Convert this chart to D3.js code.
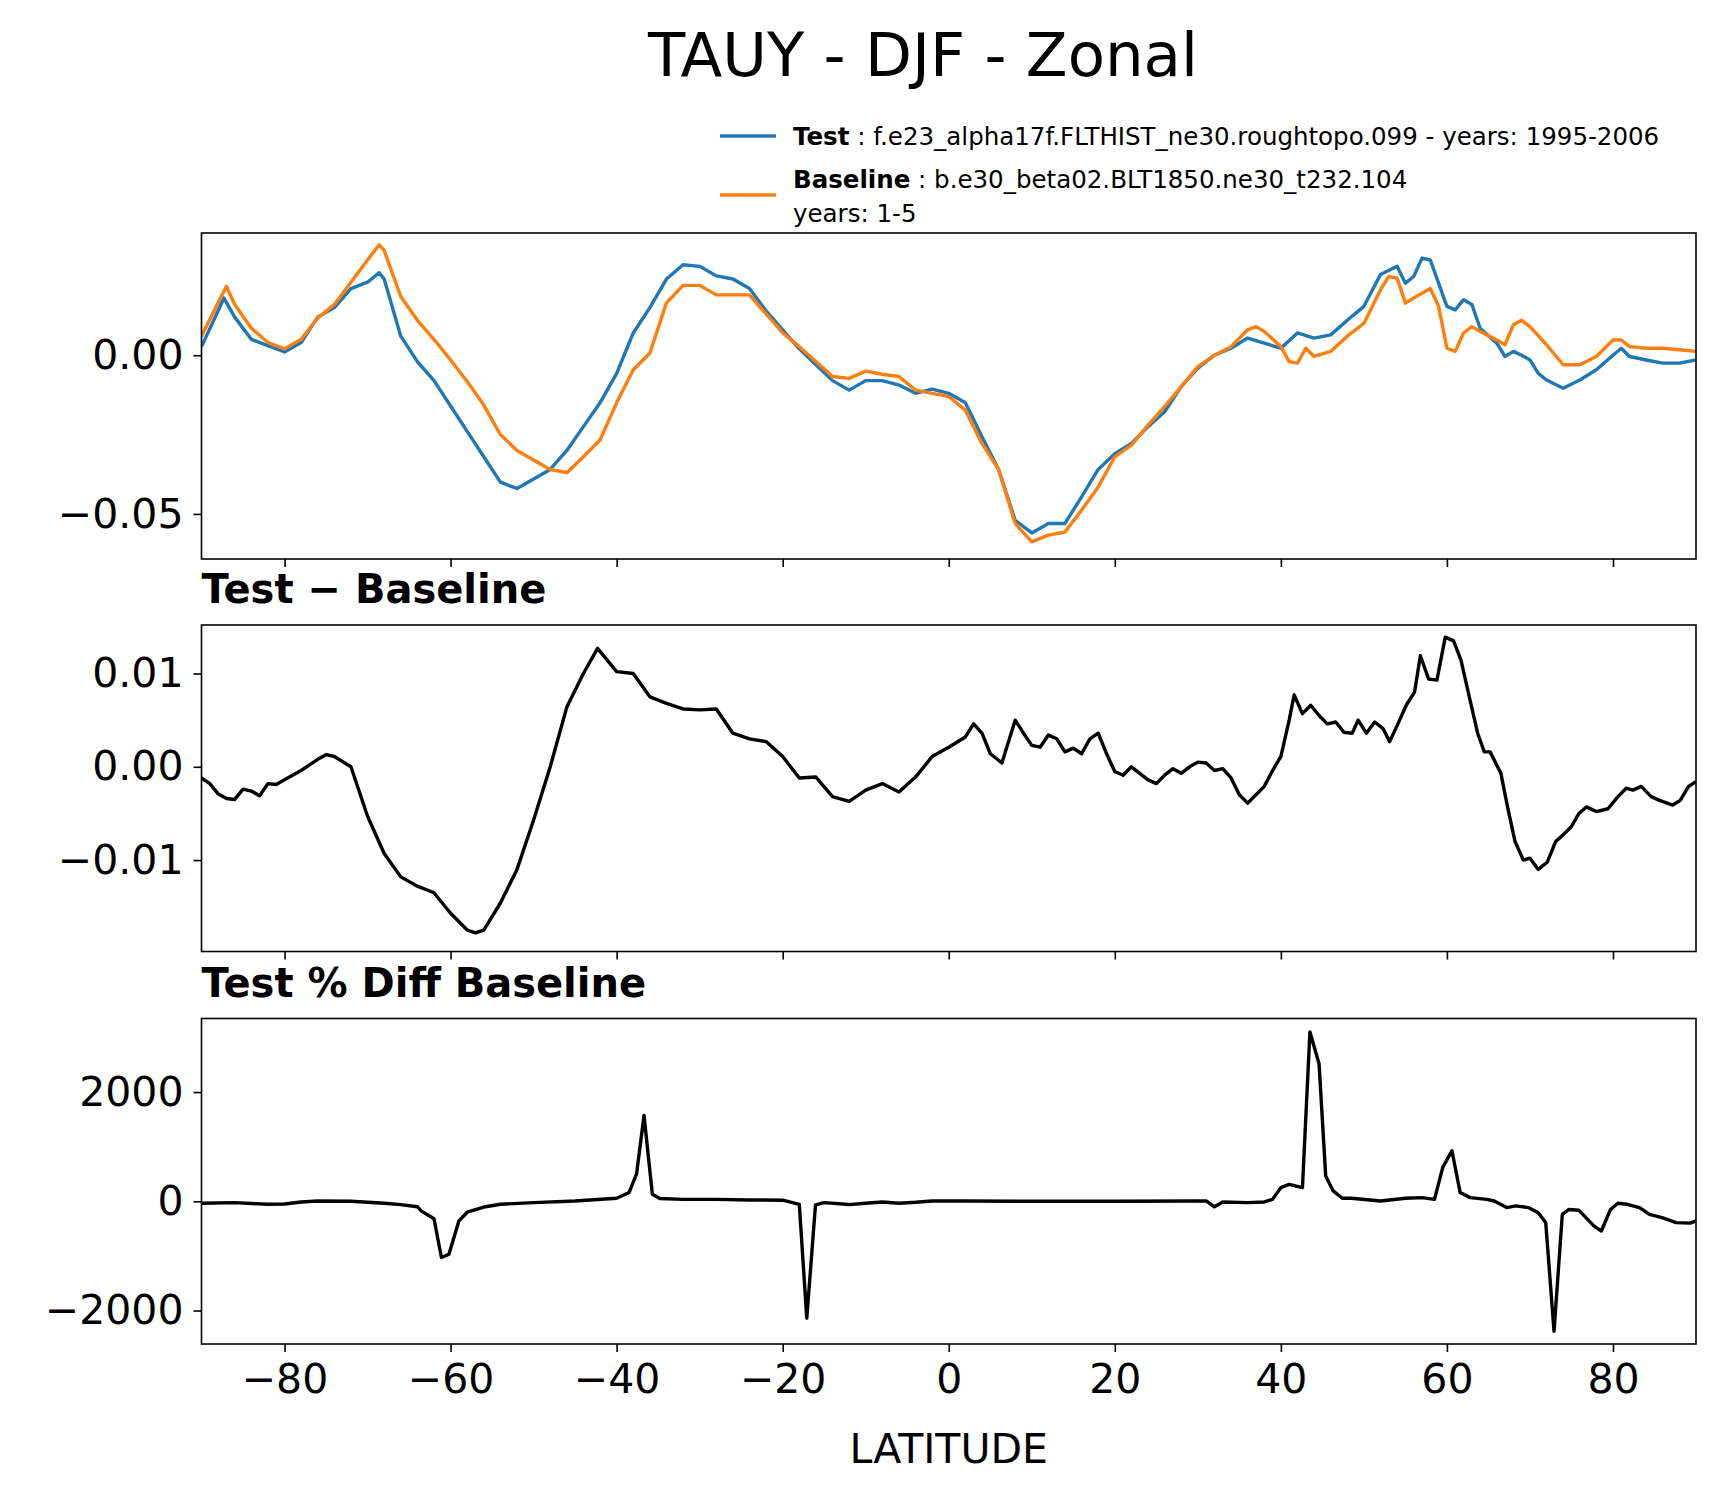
<!DOCTYPE html>
<html>
<head>
<meta charset="utf-8">
<script src="https://cdn.jsdelivr.net/npm/d3@7"></script>
<style>
  body { margin: 0; background: #fff; }
  text { font-family: "DejaVu Sans", sans-serif; }
</style>
</head>
<body>
<div id="chart"></div>
<script>
// panel 1: zonal means
const testLat = [-90,-88,-87.3,-86,-84,-82,-80,-78,-76,-74,-72,-70,-68.6,-68,-66,-64,-62,-60,-58,-56,-54,-52,-50,-48,-46,-44,-42,-40,-38,-36,-34,-32,-30,-28,-26,-24,-22,-20,-18,-16,-14,-12,-10,-8,-6,-4,-2,0,
  2,4,6,8,10,12,14,16,18,20,22,24,26,28,30,32,34,36,38,40,42,44,46,48,50,52,54,55,56,57,58,60,61,62,63,64,66,67,68,69,70,71,72,74,76,78,80,81,82,84,86,88,90]
const testVals = [0.0027,0.014,0.018,0.012,0.005,0.003,0.001,0.004,0.012,0.015,0.021,0.023,0.026,0.024,0.006,-0.002,-0.008,-0.016,-0.024,-0.032,-0.040,-0.042,-0.039,-0.036,-0.030,-0.0225,-0.015,-0.0057,0.007,0.015,0.024,0.0285,0.028,0.025,0.024,0.021,0.014,0.008,0.002,-0.003,-0.008,-0.011,-0.008,-0.008,-0.0094,-0.012,-0.0107,-0.012,
  -0.015,-0.0257,-0.036,-0.052,-0.056,-0.053,-0.053,-0.0446,-0.036,-0.031,-0.0278,-0.0225,-0.0178,-0.0099,-0.0041,0.0,0.0022,0.0054,0.0038,0.0022,0.007,0.0054,0.0064,0.011,0.0154,0.0254,0.028,0.0227,0.0248,0.0306,0.030,0.0154,0.0143,0.0175,0.016,0.0085,0.0038,-0.0004,0.0012,0.0,-0.0015,-0.0057,-0.0078,-0.0104,-0.0078,-0.0046,0.0,0.0022,-0.0004,-0.0015,-0.0025,-0.0025,-0.0015]

const baseLat = [-90,-88,-87,-86,-84,-82,-80,-78,-76,-74,-72,-70,-68.6,-68,-66,-64,-62,-60,-58,-56,-54,-52,-50,-48,-46,-44,-42,-40,-38,-36,-34,-32,-30,-28,-26,-24,-22,-20,-18,-16,-14,-12,-10,-8,-6,-4,-2,0,
  2,4,6,8,10,12,14,16,18,20,22,24,26,28,30,32,34,36,37,38,40,41,42,43,44,46,48,50,52,53,54,55,56,58,59,60,61,62,63,64,66,67,68,69,70,72,74,76,78,80,81,82,84,86,88,90]
const baseVals = [0.006,0.0165,0.0217,0.016,0.0085,0.004,0.002,0.005,0.0117,0.016,0.023,0.030,0.0348,0.033,0.0185,0.011,0.005,-0.0015,-0.0083,-0.0157,-0.025,-0.030,-0.033,-0.036,-0.037,-0.032,-0.0267,-0.015,-0.0046,0.0006,0.0165,0.022,0.022,0.019,0.019,0.019,0.013,0.007,0.0027,-0.002,-0.0067,-0.0073,-0.005,-0.006,-0.0067,-0.011,-0.012,-0.013,
  -0.0173,-0.0278,-0.036,-0.053,-0.0588,-0.0567,-0.0557,-0.0488,-0.0415,-0.032,-0.0283,-0.022,-0.0162,-0.0099,-0.0036,0.0,0.0027,0.008,0.009,0.0075,0.0027,-0.002,-0.0025,0.0022,-0.0004,0.0012,0.006,0.010,0.0206,0.0248,0.0243,0.0164,0.018,0.021,0.0154,0.0022,0.0012,0.007,0.009,0.0075,0.0048,0.0033,0.0096,0.011,0.009,0.0033,-0.003,-0.003,-0.0004,0.0048,0.0048,0.0027,0.0022,0.0022,0.0017,0.0012]

// panel 2: test - baseline
const diffLat = [-90,-89,-88,-87,-86,-85,-84,-83,-82,-81,-80,-78,-76,-75,-74,-72,-70,-68,-66,-64,-62,-60,-58,-57,-56,-54,-52,-50,-48,-46,-44,-42.3,-40,-38,-36,-34,-32,-30,-28,-26,-24,-22,-20,-18,-16,-14,-12,-10,-8,-6,-4,-2,0,
  2,3,4,5,6,6.4,8,9,10,11,12,13,14,15,16,17,18,19,20,21,22,24,25,26,27,28,29,30,31,32,33,34,35,36,37,38,39,40,41,41.6,42.6,43.6,44.6,45.6,46.6,47.6,48.6,49.3,50.3,51.3,52.3,53.1,54.1,55.1,56.1,56.8,57.8,58.8,59.8,60.8,61.7,62.8,63.7,64.5,65.2,66.5,67.3,68.2,69.2,70,71,72.1,73.1,74,75,75.9,76.8,78,79.4,80.6,81.6,82.4,83.4,84.6,85.6,87.2,88.1,89.1,90]
const diffVals = [-0.0012,-0.0018,-0.0029,-0.0034,-0.0035,-0.0024,-0.0026,-0.0031,-0.0018,-0.0019,-0.0014,-0.0004,0.0008,0.0013,0.0011,0.0,-0.0053,-0.0093,-0.0118,-0.0128,-0.0135,-0.0157,-0.0175,-0.0178,-0.0175,-0.0146,-0.011,-0.0057,0.0,0.0064,0.010,0.0127,0.0102,0.010,0.0075,0.0068,0.0062,0.0061,0.0062,0.0036,0.003,0.0027,0.0011,-0.0012,-0.0011,-0.0032,-0.0037,-0.0025,-0.0018,-0.0027,-0.0011,0.0011,0.0021,
  0.0032,0.0046,0.0036,0.0014,0.0007,0.0004,0.005,0.0036,0.0023,0.0021,0.0034,0.003,0.0016,0.002,0.0014,0.003,0.0036,0.0014,-0.0005,-0.0009,0.0,-0.0014,-0.0018,-0.0009,-0.0002,-0.0007,0.0,0.0005,0.0004,-0.0004,-0.0002,-0.0012,-0.003,-0.0039,-0.003,-0.0021,-0.0004,0.0011,0.005,0.0077,0.0057,0.0066,0.0055,0.0046,0.0048,0.0037,0.0036,0.005,0.0036,0.0048,0.0041,0.0027,0.0046,0.0066,0.008,0.0119,0.0094,0.0093,0.0139,0.0135,0.0114,0.0071,0.0036,0.0016,0.0016,-0.0007,-0.0043,-0.008,-0.010,-0.0098,-0.011,-0.0102,-0.008,-0.0073,-0.0064,-0.005,-0.0043,-0.0048,-0.0045,-0.0032,-0.0023,-0.0025,-0.0021,-0.0032,-0.0036,-0.0041,-0.0036,-0.0021,-0.0016]

// panel 3: test % diff baseline
const pctLat = [-90,-86,-82,-80,-78,-76,-72,-68,-66,-64,-63.5,-62,-61.1,-60.2,-59,-58,-56,-54,-50,-45,-40,-38.5,-37.6,-36.7,-35.7,-34.8,-32,-28,-24,-20,-18,-17.1,-16.05,-15,-12,-10,-8,-6,-4,-2,0,
  2,10,20,30,31,32,33,36,38,39,40,41,42.6,43.5,44.6,45.4,46.3,47.4,48.5,52,55,57,58.5,59.5,60.6,61.6,62.8,64.8,65.7,67.2,68.3,69.8,71.0,71.9,72.9,73.9,74.7,75.9,77.7,78.6,79.7,80.6,81.7,83.2,84.4,85.9,87.6,89.3,90]
const pctVals = [-37,-25,-55,-50,-12,6,0,-35,-60,-100,-180,-320,-1030,-970,-360,-200,-105,-55,-25,6,55,160,500,1570,130,50,35,35,25,20,-55,-2140,-67,-25,-60,-35,-12,-35,-18,6,6,
  6,0,0,6,6,-100,-12,-25,-12,35,250,310,250,3100,2520,465,190,55,55,6,55,67,35,620,925,160,67,35,6,-115,-85,-115,-210,-390,-2380,-240,-150,-165,-450,-545,-150,-35,-55,-115,-240,-300,-390,-400,-360]

const xTicks = [-80, -60, -40, -20, 0, 20, 40, 60, 80]

const W = 1718, H = 1496
const left = 201.5, right = 1696
const svg = d3.select('#chart').append('svg')
  .attr('width', W).attr('height', H)

const x = d3.scaleLinear().domain([-90, 90]).range([left, right])

const panels = [
  { top: 233, bottom: 559, domain: [-0.0642, 0.0385], ticks: [-0.05, 0], fmt: d3.format('.2f'),
    series: [{ lat: testLat, vals: testVals, color: '#1f77b4' }, { lat: baseLat, vals: baseVals, color: '#ff7f0e' }] },
  { top: 625, bottom: 951.5, domain: [-0.0198, 0.0152], ticks: [-0.01, 0, 0.01], fmt: d3.format('.2f'),
    title: 'Test \u2212 Baseline',
    series: [{ lat: diffLat, vals: diffVals, color: '#000' }] },
  { top: 1018.5, bottom: 1344, domain: [-2613, 3347], ticks: [-2000, 0, 2000], fmt: d3.format('d'),
    title: 'Test % Diff Baseline',
    series: [{ lat: pctLat, vals: pctVals, color: '#000' }] }
]

panels.forEach((p, i) => {
  const y = d3.scaleLinear().domain(p.domain).range([p.bottom, p.top])
  const g = svg.append('g')

  g.append('defs').append('clipPath').attr('id', 'clip' + i)
    .append('rect').attr('x', left).attr('y', p.top)
    .attr('width', right - left).attr('height', p.bottom - p.top)

  p.series.forEach(s => {
    const pts = s.lat.map((l, k) => [l, s.vals[k]])
    g.append('path')
      .datum(pts)
      .attr('clip-path', `url(#clip${i})`)
      .attr('fill', 'none')
      .attr('stroke', s.color)
      .attr('stroke-width', 3.4)
      .attr('stroke-linejoin', 'round')
      .attr('d', d3.line().x(d => x(d[0])).y(d => y(d[1])))
  })

  const yAxis = g.append('g')
    .attr('transform', `translate(${left},0)`)
    .call(d3.axisLeft(y).tickValues(p.ticks).tickFormat(p.fmt).tickSize(8).tickPadding(10))
  const xAxis = g.append('g')
    .attr('transform', `translate(0,${p.bottom})`)
    .call(d3.axisBottom(x).tickValues(xTicks).tickSize(8).tickPadding(12)
      .tickFormat(i === 2 ? d3.format('d') : ''))
  ;[yAxis, xAxis].forEach(a => {
    a.select('.domain').remove()
    a.selectAll('line').attr('stroke', '#000').attr('stroke-width', 1.6)
    a.selectAll('text').attr('font-size', 41).attr('fill', '#000')
      .style('font-family', '"DejaVu Sans", sans-serif')
  })

  g.append('rect')
    .attr('x', left).attr('y', p.top)
    .attr('width', right - left).attr('height', p.bottom - p.top)
    .attr('fill', 'none').attr('stroke', '#000').attr('stroke-width', 1.6)

  if (p.title) {
    g.append('text')
      .attr('x', left).attr('y', p.top - 22)
      .attr('font-size', 40).attr('font-weight', 'bold')
      .text(p.title)
  }
})

svg.append('text')
  .attr('x', 923).attr('y', 76)
  .attr('text-anchor', 'middle')
  .attr('font-size', 61)
  .text('TAUY - DJF - Zonal')

svg.append('text')
  .attr('x', (left + right) / 2).attr('y', 1463)
  .attr('text-anchor', 'middle')
  .attr('font-size', 41)
  .text('LATITUDE')

// legend
const legend = [
  { color: '#1f77b4', y: 136, ty: 145, name: 'Test', rest: ' : f.e23_alpha17f.FLTHIST_ne30.roughtopo.099 - years: 1995-2006', extra: null },
  { color: '#ff7f0e', y: 195, ty: 188, name: 'Baseline', rest: ' : b.e30_beta02.BLT1850.ne30_t232.104', extra: 'years: 1-5' }
]
const lg = svg.append('g')
legend.forEach(d => {
  lg.append('line')
    .attr('x1', 720).attr('x2', 776)
    .attr('y1', d.y).attr('y2', d.y)
    .attr('stroke', d.color).attr('stroke-width', 3.4)
  const t = lg.append('text').attr('x', 793).attr('y', d.ty).attr('font-size', 24.5)
  t.append('tspan').attr('font-weight', 'bold').text(d.name)
  t.append('tspan').text(d.rest)
  if (d.extra) {
    lg.append('text').attr('x', 793).attr('y', d.ty + 34).attr('font-size', 24.5).text(d.extra)
  }
})
</script>
</body>
</html>
